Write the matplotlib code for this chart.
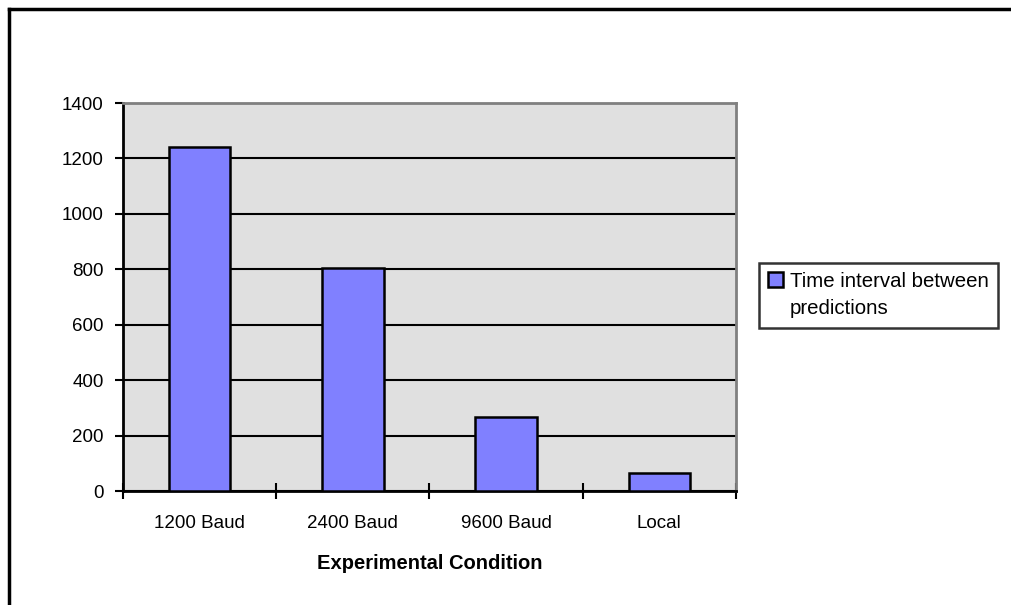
import matplotlib
matplotlib.use("Agg")
import matplotlib.pyplot as plt
from matplotlib.lines import Line2D
import numpy as np

# Chart data
conditions = ["1200 Baud", "2400 Baud", "9600 Baud", "Local"]
intervals = [1240, 805, 268, 65]
y_ticks = [0, 200, 400, 600, 800, 1000, 1200, 1400]

plt.rcParams["font.family"] = ["Liberation Sans", "DejaVu Sans"]

fig = plt.figure(figsize=(10.12, 6.05), dpi=100)
ax = fig.add_axes([123 / 1012, 1 - 491 / 605, 613 / 1012, 388 / 605])
ax.set_facecolor("#E0E0E0")

x = np.arange(len(conditions))
ax.bar(x, intervals, width=0.4, color="#8080FF", edgecolor="black",
       linewidth=1.8, zorder=3, label="Time interval between\npredictions")

ax.set_xlim(-0.5, len(conditions) - 0.5)
ax.set_ylim(0, 1400)
ax.set_yticks(y_ticks)
ax.tick_params(axis="y", labelsize=13.5, length=6, width=1.5, direction="out", pad=8)
ax.set_xticks(x)
ax.set_xticklabels(conditions, fontsize=13.5)
ax.tick_params(axis="x", length=0, pad=17)
ax.set_xticks(np.arange(len(conditions) + 1) - 0.5, minor=True)
ax.tick_params(axis="x", which="minor", length=12, width=1.5, direction="inout")

ax.grid(axis="y", color="black", linewidth=1.5, zorder=1)
ax.set_axisbelow(True)
for side in ["left", "bottom"]:
    ax.spines[side].set_linewidth(2)
    ax.spines[side].set_color("black")
for side in ["top", "right"]:
    ax.spines[side].set_linewidth(2)
    ax.spines[side].set_color("#808080")

ax.set_xlabel("Experimental Condition", fontsize=14.5, fontweight="bold", labelpad=16)

leg = ax.legend(loc="upper left", bbox_to_anchor=(759 / 1012, 1 - 263 / 605),
                bbox_transform=fig.transFigure, fontsize=14.7, frameon=True,
                fancybox=False, edgecolor="black", handlelength=0.75,
                handleheight=0.75, handletextpad=0.3, borderpad=0.45,
                labelspacing=0.3, borderaxespad=0)
leg.get_frame().set_linewidth(1.8)
for txt in leg.get_texts():
    txt.set_linespacing(1.55)
# put the legend marker beside the first text line
for col in leg._legend_handle_box.get_children():
    for row in col.get_children():
        row.align = "top"

# outer chart frame (left and top edges only visible)
fig.add_artist(Line2D([8.5 / 1012, 8.5 / 1012], [0, 1 - 8.5 / 605],
                      transform=fig.transFigure, color="black", linewidth=2.5))
fig.add_artist(Line2D([8.5 / 1012, 1], [1 - 8.5 / 605, 1 - 8.5 / 605],
                      transform=fig.transFigure, color="black", linewidth=2.5))

fig.savefig("out.png", dpi=100)
